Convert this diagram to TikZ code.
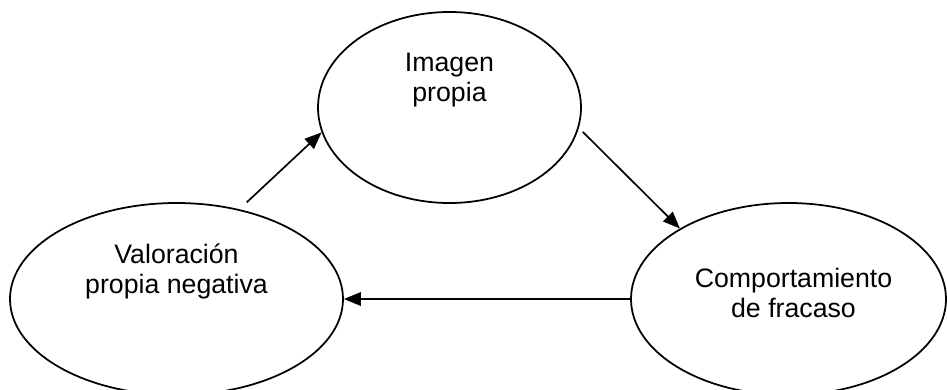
\documentclass[tikz,border=0pt]{standalone}
\usepackage{fontspec}
\setmainfont{Liberation Sans}
\usetikzlibrary{shapes.geometric,arrows.meta}

\begin{document}
\begin{tikzpicture}[bubble/.style={draw,ellipse,line width=1pt,inner sep=0pt,minimum height=3.84cm},
    flecha/.style={-{Triangle[length=0.34cm,width=0.27cm]},line width=0.95pt},
    txt/.style={align=center,font=\fontsize{15.2}{17.1}\selectfont}]
  \clip (0,0) rectangle (18.94,7.78);
  \node[bubble,minimum width=5.26cm,minimum height=3.82cm,
    label={[txt,yshift=0.54cm]center:Imagen\\propia}] (img) at (8.99,5.63) {};
  \node[bubble,minimum width=6.66cm,
    label={[txt,yshift=0.55cm]center:Valoración\\propia negativa}] (val) at (3.53,1.80) {};
  \node[bubble,minimum width=6.3cm,
    label={[txt,xshift=0.1cm,yshift=0.12cm]center:Comportamiento\\de fracaso}] (com) at (15.77,1.80) {};
  \draw[flecha,shorten <=0.2cm] (val.55) -- (img.191);
  \draw[flecha,shorten <=0.11cm] (img.351) -- (com.147);
  \draw[flecha] (com) -- (val);
\end{tikzpicture}
\end{document}
